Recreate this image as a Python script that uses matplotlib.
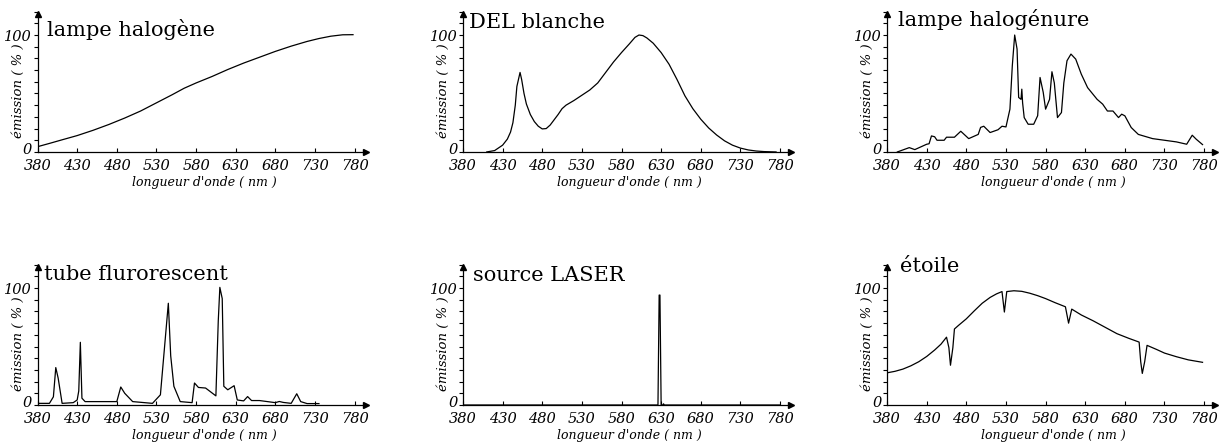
import numpy as np
import matplotlib
matplotlib.use("Agg")
import matplotlib.pyplot as plt
from matplotlib.ticker import MultipleLocator
from matplotlib.transforms import ScaledTranslation

# spectres (longueur d'onde en nm, emission en %)
halo_x = [380, 395, 410, 430, 450, 470, 490, 510, 530, 550, 565, 580, 600, 620, 640, 660, 680, 700,
          720, 735, 750, 765, 778]
halo_y = [4.5, 7.3, 10.2, 14, 18.5, 23.5, 29, 35, 42, 49, 54.5, 59, 64.5, 70.5, 76, 81, 86, 90.5,
          94.5, 97, 99, 100.2, 100.3]

del_x = [410, 420, 430, 436, 440, 443, 446, 448, 450, 452, 454, 457, 460, 465, 470, 475, 480, 485,
         490, 495, 500, 505, 510, 520, 530, 540, 550, 560, 570, 580, 590, 597, 602, 607, 612, 620,
         630, 640, 650, 660, 670, 680, 690, 700, 710, 720, 730, 740, 750, 760, 775]
del_y = [0, 1.2, 5.8, 11, 17, 25, 40, 56, 62, 68, 62, 50, 41, 32, 26, 22, 19.7, 20,
         23, 27.5, 32, 37, 40, 44, 48.5, 53, 59, 68, 77, 85, 92.5, 98, 100, 99.5, 97.5, 93,
         85, 75, 62, 48, 37, 28, 20.5, 14.5, 9.5, 5.8, 3.3, 1.7, 0.8, 0.3, 0]

hgn_x = [393, 408, 415, 430, 433, 436, 440, 443, 452, 455, 465, 473, 483, 495, 498, 502, 510, 520, 525,
         530, 535, 538, 541, 544, 546, 549, 550, 551, 553, 558, 565, 570, 573, 577, 580, 585, 588, 591,
         595, 600, 603, 607, 612, 618, 625, 633, 645, 652, 658, 665, 672, 676, 680, 688, 697, 715, 745,
         758, 765, 770, 778]
hgn_y = [0, 3.7, 2, 6.6, 7, 13.7, 13, 10, 10, 12.6, 12.6, 17.7, 11.4, 15, 21, 22, 16.6, 19, 22,
         21.4, 36.6, 73.7, 100, 88, 46.6, 45, 53.7, 42, 29.4, 23.7, 23.7, 31, 63.7, 51, 36.6, 45, 68.6, 59,
         29.4, 33.7, 59, 78, 83.7, 79.4, 66.6, 55, 45, 40.9, 35, 35, 29.4, 32.3, 30.9, 20.9, 15, 11.4, 8.6,
         6.6, 14.3, 10.9, 6.3]

fluo_x = [380, 395, 400, 403, 406, 411, 425, 430, 432, 434, 436, 440, 480, 485, 490, 500, 525, 535, 540,
          545, 548, 552, 560, 575, 578, 583, 592, 605, 608, 610, 613, 615, 620, 628, 632, 640, 645, 650,
          660, 670, 680, 685, 690, 700, 707, 712, 720, 735]
fluo_y = [1.4, 1.4, 7, 32, 23, 1.4, 2, 4.3, 12, 53.6, 5.8, 2.9, 2.9, 15.4, 10, 2.9, 1.4, 8.7, 47.8,
          87, 42, 16, 2.9, 2, 18.8, 15, 14.5, 7.8, 72, 100.6, 91, 16, 13, 16.5, 4.3, 3.5, 7.2, 3.8,
          3.8, 2.9, 2, 3, 2.2, 1.4, 9.6, 2.9, 1.2, 1.2]

laser_x = [380, 626, 627.5, 628.5, 630, 632, 633, 634, 780]
laser_y = [0, 0, 94, 94, 0, 0, 1, 0, 0]

star_x = [380, 390, 400, 410, 420, 430, 440, 448, 455, 458, 460, 463, 465, 470, 480, 490, 500, 510,
          518, 525, 528, 531, 540, 550, 560, 570, 580, 592, 605, 609, 613, 625, 640, 655, 670, 685,
          698, 700, 702, 705, 708, 720, 730, 745, 760, 778]
star_y = [27.5, 28.8, 30.7, 33.5, 37, 41.5, 47, 52, 58, 49, 34, 49, 65, 68, 73.7, 80.5, 87, 92,
          95, 97, 79.5, 97, 97.7, 97.2, 95.6, 93.5, 91, 87.5, 84, 70, 82, 77, 72, 66.5, 61, 57,
          53.8, 37, 27, 37, 51, 47.5, 44.4, 41.3, 38.6, 36.5]

titles = ["lampe halogène", "DEL blanche", "lampe halogénure",
          "tube flurorescent", "source LASER", "étoile"]
series = [(halo_x, halo_y), (del_x, del_y), (hgn_x, hgn_y),
          (fluo_x, fluo_y), (laser_x, laser_y), (star_x, star_y)]
ticks = [380, 430, 480, 530, 580, 630, 680, 730, 780]

# placement des titres (x en nm, y en %)
title_pos = [(392, 99), (388, 106), (394, 108), (388, 107), (393, 106), (396, 114)]

plt.rcParams["font.family"] = "DejaVu Serif"

fig = plt.figure(figsize=(12.19, 4.43), dpi=100)
lefts = [0.0308, 0.3798, 0.7277]
bottoms = [0.657, 0.0858]
w, h = 0.2731, 0.322

for i in range(6):
    ax = fig.add_axes([lefts[i % 3], bottoms[i // 3], w, h])
    x, y = series[i]
    ax.plot(x, y, color="black", lw=0.9)
    ax.set_xlim(380, 800)
    ax.set_ylim(0, 122)
    ax.spines["top"].set_visible(False)
    ax.spines["right"].set_visible(False)
    ax.spines["left"].set_bounds(0, 118)
    ax.spines["bottom"].set_bounds(380, 794)
    ax.spines["left"].set_linewidth(0.9)
    ax.spines["bottom"].set_linewidth(0.9)
    # fleches au bout des axes
    ax.plot(794, 0, marker=">", color="black", ms=5, clip_on=False)
    ax.plot(380, 118, marker="^", color="black", ms=4, clip_on=False)
    ax.set_xticks(ticks)
    ax.set_xticklabels([str(t) for t in ticks], fontstyle="italic", fontsize=10.5)
    ax.set_yticks([0, 100])
    ax.set_yticklabels(["0", "100"], fontstyle="italic", fontsize=10.5)
    ax.yaxis.set_minor_locator(MultipleLocator(10))
    ax.tick_params(axis="x", direction="in", length=3, width=0.8, pad=5)
    ax.tick_params(axis="y", which="both", direction="out", length=3, width=0.8, pad=1)
    # le "0" remonte un peu pour ne pas toucher le "380"
    lab0 = ax.yaxis.get_major_ticks()[0].label1
    lab0.set_transform(lab0.get_transform() + ScaledTranslation(0, 3 / 100, fig.dpi_scale_trans))
    ax.set_xlabel("longueur d'onde ( nm )", fontstyle="italic", fontsize=9, labelpad=2)
    ax.set_ylabel("émission ( % )", fontstyle="italic", fontsize=9.5)
    ax.yaxis.set_label_coords(-0.038, 0.43)
    tx, ty = title_pos[i]
    ax.text(tx, ty, titles[i], fontsize=15, ha="left", va="baseline")

fig.savefig("out.png", dpi=100)
